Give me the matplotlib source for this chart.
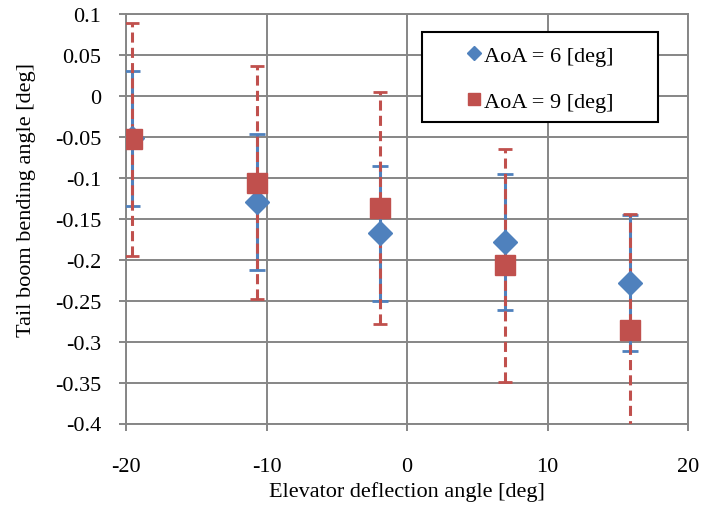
import numpy as np
import matplotlib
matplotlib.use('Agg')
import matplotlib.pyplot as plt
from matplotlib.patches import Rectangle

# data
elev = [-19.6, -10.7, -1.9, 7.0, 15.9]
bend6 = [-0.052, -0.130, -0.168, -0.178, -0.229]
err6 = [0.083, 0.083, 0.083, 0.083, 0.083]
bend9 = [-0.053, -0.106, -0.137, -0.207, -0.286]
err9 = [0.142, 0.142, 0.142, 0.142, 0.142]

xticks = [-20, -10, 0, 10, 20]
yticks = [0.1, 0.05, 0, -0.05, -0.1, -0.15, -0.2, -0.25, -0.3, -0.35, -0.4]
ylabels = ['0.1', '0.05', '0', '-0.05', '-0.1', '-0.15', '-0.2', '-0.25', '-0.3', '-0.35', '-0.4']

blue = '#4F81BD'
red = '#C0504D'
grey = '#868686'

plt.rcParams['font.family'] = ['Liberation Serif', 'DejaVu Serif']

W, H = 704, 510
fig = plt.figure(figsize=(W/100, H/100), dpi=100)
ax = fig.add_axes([126/W, 1 - 424.5/H, (688-126)/W, (424.5-15)/H])

ax.set_xlim(-20, 20)
ax.set_ylim(-0.4, 0.1)
ax.set_xticks(xticks)
ax.set_xticklabels([str(t) for t in xticks])
ax.set_yticks(yticks)
ax.set_yticklabels(ylabels)
ax.grid(True, color=grey, linewidth=1.4)
ax.set_axisbelow(True)
for s in ax.spines.values():
    s.set_color(grey)
    s.set_linewidth(1.4)
ax.tick_params(axis='both', direction='out', length=5, width=1.4, color=grey,
               labelsize=16)
ax.tick_params(axis='x', pad=19)
ax.tick_params(axis='y', pad=13)

# error bars: blue solid under red dashed
eb6 = ax.errorbar(elev, bend6, yerr=err6, fmt='none', ecolor=blue,
                  elinewidth=2.2, capsize=6, capthick=2.0, zorder=3)
eb9 = ax.errorbar(elev, bend9, yerr=err9, fmt='none', ecolor=red,
                  elinewidth=2.2, capsize=5, capthick=2.0, zorder=4)
eb9[2][0].set_linestyle((0, (3.3, 1.7)))

ax.plot(elev, bend6, linestyle='none', marker='D', markersize=12,
        color=blue, zorder=5, label='AoA = 6 [deg]')
ax.plot(elev, bend9, linestyle='none', marker='s', markersize=15,
        color=red, zorder=6, label='AoA = 9 [deg]')

# legend box
box = Rectangle((422/W, 1 - 123/H), (658-422)/W, (123-33)/H,
                transform=fig.transFigure, facecolor='white',
                edgecolor='black', linewidth=1.5, zorder=10, clip_on=False)
ax.add_patch(box)
leg = ax.legend(loc='center left', bbox_to_anchor=(457/W, 1 - 79.5/H),
                bbox_transform=fig.transFigure, frameon=False, fontsize=16,
                handlelength=0.7, handletextpad=0.1, labelspacing=1.15,
                markerscale=0.62, borderaxespad=0)
leg.set_zorder(11)

fig.text(407/W, 1 - 492/H, 'Elevator deflection angle [deg]', ha='center',
         va='center', fontsize=16)
fig.text(27/W, 1 - 200/H, 'Tail boom bending angle [deg]', ha='center',
         va='center', rotation=90, fontsize=16)

fig.savefig('out.png', dpi=100)
